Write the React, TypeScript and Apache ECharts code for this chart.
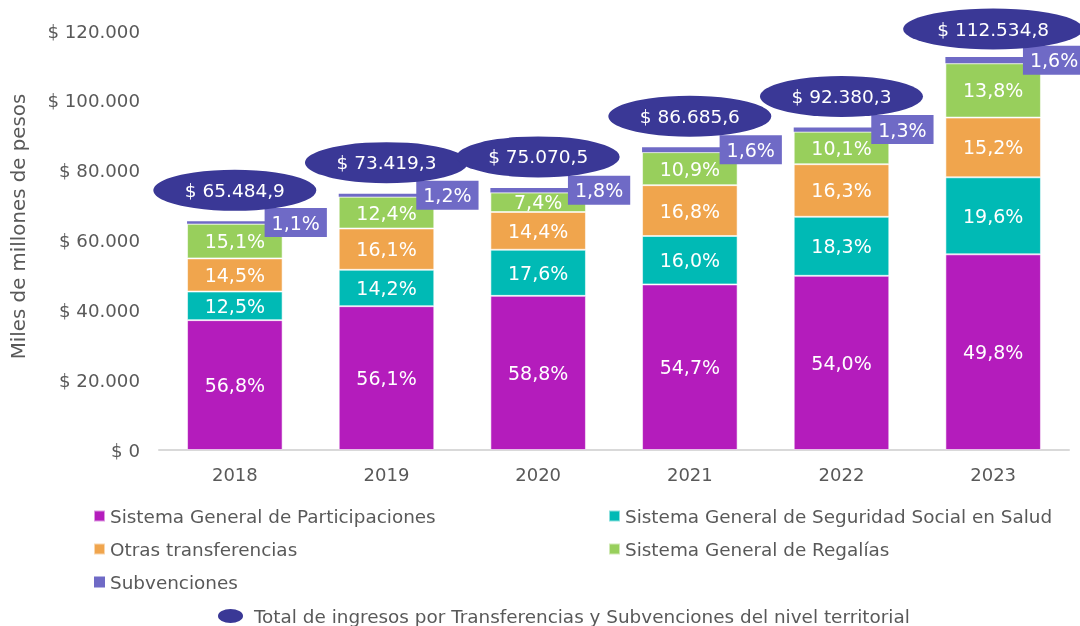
import React, { useEffect, useRef } from "react";
import * as echarts from "echarts";

const years = ["2018", "2019", "2020", "2021", "2022", "2023"];

// Miles de millones de pesos
const totals = [65484.9, 73419.3, 75070.5, 86685.6, 92380.3, 112534.8];
const sgp = [37195.4, 41188.2, 44141.5, 47417.0, 49885.4, 56042.3];
const sgsss = [8185.6, 10425.5, 13212.4, 13869.7, 16905.6, 22056.8];
const otras = [9495.3, 11820.5, 10810.2, 14563.2, 15058.0, 17105.3];
const regalias = [9888.2, 9104.0, 5555.2, 9448.7, 9330.4, 15529.8];
const subv = [720.3, 881.0, 1351.3, 1387.0, 1200.9, 1800.6];

// Participación (%) shown as labels
const pctSgp = ["56,8%", "56,1%", "58,8%", "54,7%", "54,0%", "49,8%"];
const pctSgsss = ["12,5%", "14,2%", "17,6%", "16,0%", "18,3%", "19,6%"];
const pctOtras = ["14,5%", "16,1%", "14,4%", "16,8%", "16,3%", "15,2%"];
const pctRegalias = ["15,1%", "12,4%", "7,4%", "10,9%", "10,1%", "13,8%"];
const pctSubv = ["1,1%", "1,2%", "1,8%", "1,6%", "1,3%", "1,6%"];
const totalLabels = ["$ 65.484,9", "$ 73.419,3", "$ 75.070,5", "$ 86.685,6", "$ 92.380,3", "$ 112.534,8"];

const yTicks = [0, 20000, 40000, 60000, 80000, 100000, 120000];

const FONT = "DejaVu Sans";
const GREY = "#595959";

const names = {
  sgp: "Sistema General de Participaciones",
  sgsss: "Sistema General de Seguridad Social en Salud",
  otras: "Otras transferencias",
  regalias: "Sistema General de Regalías",
  subv: "Subvenciones",
  total: "Total de ingresos por Transferencias y Subvenciones del nivel territorial",
};

const colors = {
  sgp: "#B41CBC",
  sgsss: "#00BAB5",
  otras: "#F0A54D",
  regalias: "#98CF5C",
  subv: "#6F6AC6",
  total: "#3A3896",
};

function fmt(n: number) {
  return "$ " + String(n).replace(/\B(?=(\d{3})+(?!\d))/g, ".");
}

function barSeries(name: string, color: string, data: number[], pcts: string[]) {
  return {
    name,
    type: "bar",
    stack: "total",
    barWidth: "63%",
    data,
    itemStyle: { color, borderColor: "rgba(255,255,255,0.55)", borderWidth: 1 },
    label: {
      show: true,
      position: "inside",
      color: "#fff",
      fontFamily: FONT,
      fontSize: 19,
      formatter: (p: any) => pcts[p.dataIndex],
    },
  };
}

export default function App() {
  const ref = useRef<HTMLDivElement>(null);
  useEffect(() => {
    if (!ref.current) return;
    const chart = echarts.init(ref.current, null, { renderer: "svg" });
    const legendText = { color: GREY, fontFamily: FONT, fontSize: 18.4 };
    chart.setOption({
      animation: false,
      textStyle: { fontFamily: FONT },
      grid: { left: 159, right: 11, top: 31, bottom: 176, containLabel: false, outerBoundsMode: "none" },
      legend: [
        {
          orient: "vertical",
          left: 93,
          top: 506,
          padding: 0,
          icon: "rect",
          itemWidth: 11,
          itemHeight: 11,
          itemGap: 13,
          textStyle: { ...legendText, lineHeight: 20 },
          data: [names.sgp, names.otras, names.subv],
        },
        {
          orient: "vertical",
          left: 608,
          top: 506,
          padding: 0,
          icon: "rect",
          itemWidth: 11,
          itemHeight: 11,
          itemGap: 13,
          textStyle: { ...legendText, lineHeight: 20 },
          data: [names.sgsss, names.regalias],
        },
        {
          left: 218,
          top: 606,
          padding: 0,
          itemWidth: 25,
          itemHeight: 14,
          textStyle: { ...legendText, lineHeight: 20, padding: [0, 0, 0, 6] },
          data: [{ name: names.total, icon: "path://M0,7 A12.5,7 0 1,0 25,7 A12.5,7 0 1,0 0,7 Z" }],
        },
      ],
      xAxis: {
        type: "category",
        data: years,
        axisTick: { show: false },
        axisLine: { lineStyle: { color: "#D9D9D9", width: 2 } },
        axisLabel: { color: GREY, fontFamily: FONT, fontSize: 18, margin: 15 },
      },
      yAxis: {
        type: "value",
        min: 0,
        max: yTicks[yTicks.length - 1],
        interval: yTicks[1] - yTicks[0],
        splitLine: { show: false },
        axisLabel: { color: GREY, fontFamily: FONT, fontSize: 18.2, margin: 19, formatter: (v: number) => fmt(v) },
        name: "Miles de millones de pesos",
        nameLocation: "middle",
        nameGap: 131,
        nameTextStyle: { color: GREY, fontFamily: FONT, fontSize: 19.8, padding: [0, 0, 0, 28] },
      },
      series: [
        barSeries(names.sgp, colors.sgp, sgp, pctSgp),
        barSeries(names.sgsss, colors.sgsss, sgsss, pctSgsss),
        barSeries(names.otras, colors.otras, otras, pctOtras),
        barSeries(names.regalias, colors.regalias, regalias, pctRegalias),
        {
          name: names.subv,
          type: "bar",
          stack: "total",
          barWidth: "63%",
          data: subv,
          itemStyle: { color: colors.subv },
          z: 3,
          label: {
            show: true,
            position: "right",
            distance: 0,
            offset: [-18, 0],
            color: "#fff",
            fontFamily: FONT,
            fontSize: 19,
            backgroundColor: colors.subv,
            padding: [5, 7, 4, 7],
            lineHeight: 20,
            formatter: (p: any) => pctSubv[p.dataIndex],
          },
        },
        {
          name: names.total,
          type: "scatter",
          data: totals.map((v, i) => ({
            value: v,
            symbolSize: [i === 5 ? 180 : 163, 41],
            symbolOffset: [0, i === 5 ? -28 : -31],
          })),
          symbol: "circle",
          itemStyle: { color: colors.total, opacity: 1 },
          z: 4,
          label: {
            show: true,
            position: "inside",
            color: "#fff",
            fontFamily: FONT,
            fontSize: 18.5,
            formatter: (p: any) => totalLabels[p.dataIndex],
          },
        },
      ],
    });
    return () => chart.dispose();
  }, []);
  return <div ref={ref} style={{ position: "fixed", left: 0, top: 0, width: 1080, height: 626 }} />;
}
